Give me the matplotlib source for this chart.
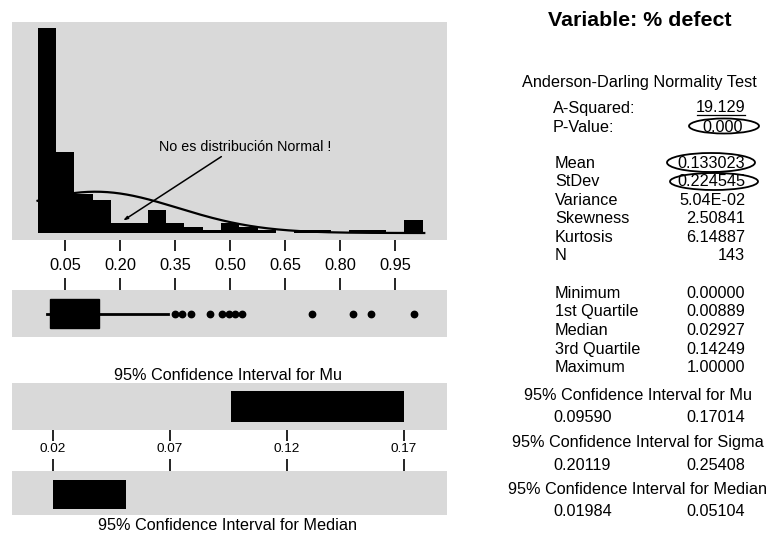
import numpy as np
import matplotlib
matplotlib.use("Agg")
import matplotlib.pyplot as plt
from matplotlib.patches import Ellipse
from matplotlib.lines import Line2D

plt.rcParams["font.family"] = ["Liberation Sans", "DejaVu Sans"]

# --- % defect, graphical summary ---------------------------------------
bin_centers = [0.00, 0.05, 0.10, 0.15, 0.20, 0.25, 0.30, 0.35, 0.40, 0.45, 0.50,
               0.55, 0.60, 0.65, 0.70, 0.75, 0.80, 0.85, 0.90, 0.95, 1.00]
bin_counts = [63, 25, 12, 10, 3, 3, 7, 3, 2, 1, 3,
              2, 1, 0, 1, 1, 0, 1, 1, 0, 4]
bin_width = 0.05
hist_ticks = [0.05, 0.20, 0.35, 0.50, 0.65, 0.80, 0.95]

n_obs = 143
mean = 0.133023
stdev = 0.224545
minimum, q1, median, q3, maximum = 0.00000, 0.00889, 0.02927, 0.14249, 1.00000
whisker_hi = 0.331
outliers = [0.351, 0.370, 0.392, 0.446, 0.478, 0.497, 0.514, 0.533,
            0.723, 0.834, 0.884, 1.000]

ci_mu = (0.09590, 0.17014)
ci_sigma = (0.20119, 0.25408)
ci_median = (0.01984, 0.05104)
ci_ticks = [0.02, 0.07, 0.12, 0.17]

stats_rows = [
    ("Mean", "0.133023"), ("StDev", "0.224545"), ("Variance", "5.04E-02"),
    ("Skewness", "2.50841"), ("Kurtosis", "6.14887"), ("N", "143"),
]
quartile_rows = [
    ("Minimum", "0.00000"), ("1st Quartile", "0.00889"), ("Median", "0.02927"),
    ("3rd Quartile", "0.14249"), ("Maximum", "1.00000"),
]

W, H = 776, 540
GRAY = "#d9d9d9"
fig = plt.figure(figsize=(W / 100, H / 100), dpi=100)


def px_axes(x0, y0, x1, y1):
    ax = fig.add_axes([x0 / W, 1 - y1 / H, (x1 - x0) / W, (y1 - y0) / H])
    ax.set_facecolor(GRAY)
    for s in ax.spines.values():
        s.set_visible(False)
    ax.set_yticks([])
    return ax


def ftext(x, y, s, **kw):
    kw.setdefault("fontsize", 11.7)
    kw.setdefault("va", "center")
    fig.text(x / W, 1 - y / H, s, **kw)


hist_xlim = (-0.0946, 1.091)

# histogram + fitted normal curve
ax = px_axes(12, 22, 447, 240)
ax.bar(bin_centers, bin_counts, width=bin_width, color="black", align="center")
xs = np.linspace(bin_centers[0] - bin_width / 2, bin_centers[-1] + bin_width / 2 + 0.004, 300)
pdf = np.exp(-0.5 * ((xs - mean) / stdev) ** 2) / (stdev * np.sqrt(2 * np.pi))
ax.plot(xs, n_obs * bin_width * pdf, color="black", lw=1.6)
ax.set_xlim(*hist_xlim)
ax.set_ylim(-2.15, 64.9)
ax.set_xticks(hist_ticks, [f"{t:.2f}" for t in hist_ticks])
ax.tick_params(axis="x", length=8, width=1.2, pad=5, labelsize=11.8)
ax.text(0.542, 26.5, "No es distribución Normal !", fontsize=10.3,
        ha="center", va="center")
ax.annotate("", xy=(0.208, 3.8), xytext=(0.476, 23.5),
            arrowprops=dict(arrowstyle="-|>,head_length=0.25,head_width=0.08",
                            color="black", lw=1.1, shrinkA=0, shrinkB=0))

# boxplot
ax = px_axes(12, 290, 447, 337)
ax.bxp([dict(med=median, q1=q1, q3=q3, whislo=minimum, whishi=whisker_hi,
             fliers=outliers)],
       positions=[0], widths=0.62, orientation="horizontal", patch_artist=True,
       showcaps=False,
       boxprops=dict(facecolor="black", edgecolor="black"),
       whiskerprops=dict(color="black", lw=2),
       medianprops=dict(color="black"),
       flierprops=dict(marker="o", markerfacecolor="black",
                       markeredgecolor="black", markersize=4.6))
ax.set_xlim(*hist_xlim)
ax.set_ylim(-0.5, 0.5)
ax.set_yticks([])
ax.xaxis.tick_top()
ax.set_xticks(hist_ticks)
ax.tick_params(axis="x", top=True, labeltop=False, bottom=False,
               labelbottom=False, length=9, width=1.2)

ci_xlim = (0.00248, 0.1884)

# confidence interval for mu
ftext(228, 375, "95% Confidence Interval for Mu", ha="center")
ax = px_axes(12, 383, 447, 430)
ax.barh(0, ci_mu[1] - ci_mu[0], left=ci_mu[0], height=0.64, color="black")
ax.set_xlim(*ci_xlim)
ax.set_ylim(-0.5, 0.5)
ax.set_xticks(ci_ticks, [f"{t:.2f}" for t in ci_ticks])
ax.tick_params(axis="x", length=8, width=1.2, pad=1, labelsize=9.7)

# confidence interval for median
ax = px_axes(12, 471, 447, 515)
ax.barh(-0.034, ci_median[1] - ci_median[0], left=ci_median[0], height=0.66,
        color="black")
ax.set_xlim(*ci_xlim)
ax.set_ylim(-0.5, 0.5)
ax.xaxis.tick_top()
ax.set_xticks(ci_ticks)
ax.tick_params(axis="x", top=True, labeltop=False, bottom=False,
               labelbottom=False, length=9, width=1.2)
ftext(228, 525, "95% Confidence Interval for Median", ha="center")

# summary table on the right
LX, RX = 553, 745
ftext(640, 20, "Variable: % defect", ha="center", fontsize=15.4, fontweight="bold")
ftext(639, 82, "Anderson-Darling Normality Test", ha="center")
ftext(LX, 108, "A-Squared:")
ftext(RX, 108, "19.129", ha="right")
ftext(LX, 127, "P-Value:")
ftext(RX - 2, 127, "0.000", ha="right")

for i, (lab, val) in enumerate(stats_rows):
    y = 163 + i * 18.6
    ftext(LX + 2, y, lab)
    ftext(RX, y, val, ha="right")

for i, (lab, val) in enumerate(quartile_rows):
    y = 293 + i * 18.75
    ftext(LX + 2, y, lab)
    ftext(RX, y, val, ha="right")

ci_rows = [("Mu", ci_mu, 395), ("Sigma", ci_sigma, 443), ("Median", ci_median, 489)]
for name, (lo, hi), y in ci_rows:
    ftext(638, y, f"95% Confidence Interval for {name}", ha="center")
    ftext(LX, y + 23, f"{lo:.5f}")
    ftext(RX, y + 23, f"{hi:.5f}", ha="right")

# hand-drawn marks around the key results
for cx, cy, w, h in [(724, 126, 70, 15), (711, 162.5, 88, 19), (714, 181.5, 88, 17)]:
    fig.add_artist(Ellipse((cx / W, 1 - cy / H), w / W, h / H,
                           transform=fig.transFigure, fill=False,
                           edgecolor="black", lw=1.3))
fig.add_artist(Line2D([697 / W, 745 / W], [1 - 115 / H, 1 - 115 / H],
                      transform=fig.transFigure, color="black", lw=0.9))

fig.savefig("out.png", dpi=100)
